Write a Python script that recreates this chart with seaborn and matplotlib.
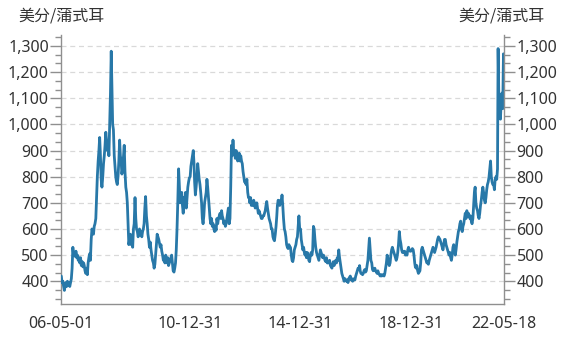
import pandas as pd
import matplotlib
matplotlib.use("Agg")
import matplotlib.pyplot as plt
import matplotlib.dates as mdates
from matplotlib.ticker import MultipleLocator
import seaborn as sns

# ---------------- data ----------------
unit_label = "美分/蒲式耳"
start_date = "2006-05-01"
end_date = "2022-05-18"

# three readings per month (1st, 11th, 21st), cents per bushel
p2006 = [420, 395, 400, 380, 365, 385, 395, 380, 400, 385, 395, 380,
         395, 410, 450, 530, 500, 510, 495, 515, 490, 500, 480, 490]
p2007 = [470, 490, 460, 475, 455, 470, 460, 440, 430, 450, 425, 470,
         490, 505, 480, 560, 600, 590, 580, 610, 620, 640, 720, 800,
         860, 900, 950, 880, 790, 760, 800, 850, 880, 920, 970, 940]
p2008 = [900, 930, 880, 1000, 1120, 1280, 1150, 1000, 980, 880, 840, 800,
         780, 770, 800, 860, 940, 880, 860, 810, 830, 880, 920, 820,
         760, 740, 700, 620, 540, 560, 580, 540, 560, 530, 600, 620]
p2009 = [720, 640, 600, 590, 570, 580, 600, 580, 590, 570, 590, 600,
         620, 680, 724, 650, 620, 580, 560, 530, 550, 520, 500, 480,
         470, 450, 465, 500, 540, 580, 570, 560, 545, 530, 540, 515]
p2010 = [500, 480, 490, 470, 500, 480, 470, 490, 460, 470, 480, 490,
         500, 470, 440, 435, 450, 470, 520, 600, 700, 830, 760, 700,
         720, 740, 690, 660, 720, 700, 740, 680, 720, 760, 780, 795]
p2011 = [800, 840, 860, 880, 900, 850, 780, 730, 760, 800, 850, 820,
         790, 770, 740, 700, 640, 620, 650, 700, 720, 740, 790, 760,
         720, 680, 640, 620, 640, 610, 620, 600, 590, 610, 595, 640]
p2012 = [620, 640, 650, 660, 640, 670, 650, 640, 620, 630, 610, 620,
         640, 660, 680, 620, 640, 760, 920, 880, 940, 890, 900, 870,
         900, 880, 860, 870, 890, 860, 880, 860, 850, 820, 800, 780]
p2013 = [780, 770, 790, 740, 720, 720, 700, 720, 690, 700, 690, 710,
         700, 680, 690, 700, 680, 660, 670, 660, 650, 640, 640, 650,
         650, 660, 670, 690, 705, 680, 660, 640, 630, 620, 600, 600]
p2014 = [570, 560, 555, 580, 610, 650, 690, 710, 700, 690, 710, 700,
         730, 690, 640, 600, 590, 570, 540, 530, 525, 540, 530, 530,
         500, 480, 475, 490, 520, 530, 540, 560, 570, 610, 650, 600]
p2015 = [600, 560, 540, 520, 530, 510, 500, 510, 490, 510, 500, 480,
         475, 500, 510, 500, 520, 610, 600, 560, 530, 510, 500, 490,
         480, 500, 520, 510, 500, 490, 500, 490, 480, 475, 490, 470]
p2016 = [470, 475, 480, 460, 455, 450, 465, 475, 460, 470, 480, 470,
         490, 480, 520, 490, 470, 450, 430, 420, 410, 400, 410, 405,
         400, 405, 395, 410, 415, 420, 405, 410, 400, 405, 410, 405]
p2017 = [420, 430, 440, 450, 445, 460, 440, 430, 430, 425, 430, 440,
         445, 435, 440, 460, 480, 520, 565, 520, 480, 470, 445, 440,
         445, 450, 440, 435, 430, 440, 430, 425, 420, 425, 420, 425]
p2018 = [425, 420, 430, 450, 470, 500, 490, 470, 460, 470, 500, 520,
         530, 520, 510, 500, 490, 480, 490, 510, 540, 590, 560, 545,
         520, 510, 515, 510, 515, 500, 505, 500, 520, 530, 520, 515]
p2019 = [515, 520, 525, 520, 500, 470, 455, 450, 460, 440, 430, 435,
         440, 470, 520, 530, 520, 510, 500, 490, 480, 470, 475, 465,
         480, 490, 500, 510, 520, 530, 520, 510, 520, 530, 545, 560]
p2020 = [570, 565, 560, 550, 540, 530, 520, 540, 560, 560, 540, 530,
         520, 510, 500, 510, 490, 480, 500, 530, 540, 520, 500, 520,
         550, 570, 590, 600, 620, 630, 600, 590, 610, 620, 640, 660]
p2021 = [640, 670, 650, 660, 650, 640, 650, 630, 620, 640, 690, 740,
         760, 700, 680, 670, 650, 640, 660, 690, 710, 740, 760, 740,
         710, 700, 720, 750, 770, 780, 800, 830, 860, 800, 780, 770]
p2022 = [770, 750, 790, 800, 790, 830, 1290, 1100, 1080, 1020, 1090, 1120,
         1060, 1270, 1240]

y_ticks = [400, 500, 600, 700, 800, 900, 1000, 1100, 1200, 1300]
x_tick_dates = [start_date] + [f"{y}-12-31" for y in range(2006, 2022)] + [end_date]
x_label_map = {"2006-05-01": "06-05-01", "2010-12-31": "10-12-31",
               "2014-12-31": "14-12-31", "2018-12-31": "18-12-31",
               "2022-05-18": "22-05-18"}

# ---------------- build frame ----------------
t0, t1 = pd.Timestamp(start_date), pd.Timestamp(end_date)
dates = []
for yr in range(2006, 2023):
    for mo in range(1, 13):
        for d in (1, 11, 21):
            ts = pd.Timestamp(yr, mo, d)
            if t0 <= ts <= t1:
                dates.append(ts)
dates.append(t1)
values = (p2006 + p2007 + p2008 + p2009 + p2010 + p2011 + p2012 + p2013 +
          p2014 + p2015 + p2016 + p2017 + p2018 + p2019 + p2020 + p2021 + p2022)
assert len(dates) == len(values), (len(dates), len(values))
df = pd.DataFrame({"date": dates, "price": values})

# ---------------- style ----------------
sns.set_style("white")
plt.rcParams["font.family"] = ["Noto Sans", "Noto Sans CJK SC", "DejaVu Sans"]

line_color = "#2878a8"
axis_color = "#8f8f8f"
text_color = "#333333"
fs = 11.5

W, H = 563, 350
fig = plt.figure(figsize=(W / 100, H / 100), dpi=100)
left, right, top, bottom = 61.3, 504, 35, 304
ax = fig.add_axes([left / W, 1 - bottom / H, (right - left) / W, (bottom - top) / H])

sns.lineplot(data=df, x="date", y="price", ax=ax, color=line_color,
             linewidth=2.0, zorder=3)

ax.set_xlim(mdates.date2num(t0), mdates.date2num(t1))
ylim = (313, 1342)
ax.set_ylim(*ylim)
ax.set_xlabel("")
ax.set_ylabel("")

# x ticks
xt = [mdates.date2num(pd.Timestamp(d)) for d in x_tick_dates]
ax.set_xticks(xt)
ax.set_xticklabels([x_label_map.get(d, "") for d in x_tick_dates])
ax.tick_params(axis="x", which="major", length=6, width=1, color=axis_color,
               pad=2.5, labelsize=fs, labelcolor=text_color, direction="out")

# y ticks
ax.set_yticks(y_ticks)
ax.set_yticklabels([f"{v:,}" for v in y_ticks])
ax.yaxis.set_minor_locator(MultipleLocator(100 / 3))
ax.tick_params(axis="y", which="major", length=8, width=1, color=axis_color,
               pad=1, labelsize=fs, labelcolor=text_color, direction="out")
ax.tick_params(axis="y", which="minor", length=4.5, width=1, color=axis_color,
               direction="out")

ax.grid(False)
ax.yaxis.grid(True, which="major", color="#d9d9d9", linestyle=(0, (4, 3)),
              linewidth=0.9, zorder=0)
ax.set_axisbelow(True)

for s in ["left", "bottom"]:
    ax.spines[s].set_color(axis_color)
    ax.spines[s].set_linewidth(1)
ax.spines["top"].set_visible(False)
ax.spines["right"].set_visible(False)

# right twin axis
ax2 = ax.twinx()
ax2.set_ylim(*ylim)
ax2.set_yticks(y_ticks)
ax2.set_yticklabels([f"{v:,}" for v in y_ticks])
ax2.yaxis.set_minor_locator(MultipleLocator(100 / 3))
ax2.tick_params(axis="y", which="major", length=8, width=1, color=axis_color,
                pad=1, labelsize=fs, labelcolor=text_color, direction="out")
ax2.tick_params(axis="y", which="minor", length=4.5, width=1, color=axis_color,
                direction="out")
for s in ["top", "left", "bottom"]:
    ax2.spines[s].set_visible(False)
ax2.spines["right"].set_color(axis_color)
ax2.spines["right"].set_linewidth(1)
ax2.grid(False)

# unit labels
fig.text(18 / W, 1 - 16 / H, unit_label, ha="left", va="center", fontsize=fs,
         color=text_color, family=["Noto Sans CJK SC", "DejaVu Sans"])
fig.text(545 / W, 1 - 16 / H, unit_label, ha="right", va="center", fontsize=fs,
         color=text_color, family=["Noto Sans CJK SC", "DejaVu Sans"])

fig.savefig("out.png", dpi=100)
